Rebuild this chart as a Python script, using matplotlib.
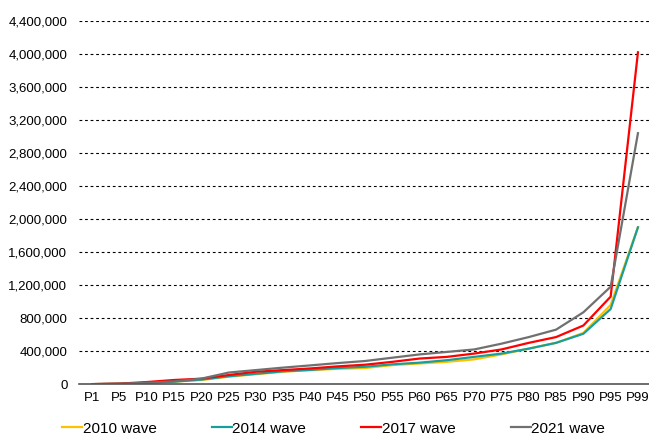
import matplotlib
matplotlib.use('Agg')
import matplotlib.pyplot as plt
from matplotlib.ticker import FuncFormatter

plt.rcParams['font.family'] = ['Liberation Sans', 'DejaVu Sans']

cats = ['P1', 'P5', 'P10', 'P15', 'P20', 'P25', 'P30', 'P35', 'P40', 'P45', 'P50',
        'P55', 'P60', 'P65', 'P70', 'P75', 'P80', 'P85', 'P90', 'P95', 'P99']

w2010 = [0, 4000, 14000, 30000, 50000, 90000, 120000, 150000, 170000, 185000, 195000,
         230000, 250000, 270000, 300000, 360000, 430000, 500000, 620000, 960000, 1900000]
w2014 = [0, 4000, 14000, 30000, 55000, 95000, 125000, 155000, 172000, 195000, 210000,
         240000, 260000, 290000, 330000, 370000, 430000, 500000, 610000, 910000, 1900000]
w2017 = [0, 6000, 25000, 50000, 66000, 110000, 150000, 170000, 190000, 215000, 235000,
         270000, 310000, 330000, 370000, 420000, 500000, 570000, 710000, 1060000, 4020000]
w2021 = [0, 5000, 16000, 33000, 66000, 140000, 170000, 200000, 227000, 255000, 280000,
         320000, 360000, 390000, 420000, 490000, 570000, 660000, 870000, 1180000, 3040000]

fig = plt.figure(figsize=(6.49, 4.36), dpi=100)
ax = fig.add_axes([0.121, 0.119, 0.883, 0.833])

x = range(len(cats))
ax.plot(x, w2010, color='#FFC000', lw=1.6, label='2010 wave')
ax.plot(x, w2014, color='#17A09B', lw=1.6, label='2014 wave')
ax.plot(x, w2017, color='#FF0000', lw=1.6, label='2017 wave')
ax.plot(x, w2021, color='#707070', lw=1.6, label='2021 wave')

ax.set_xlim(-0.5, len(cats) - 0.5)
ax.set_ylim(0, 4400000)
ax.set_yticks(range(0, 4400001, 400000))
ax.yaxis.set_major_formatter(FuncFormatter(lambda v, p: '{:,.0f}'.format(v)))
ax.set_xticks(list(x))
ax.set_xticklabels(cats)
ax.grid(axis='y', color='black', linestyle=(0, (2.5, 2.5)), lw=0.8)
ax.set_axisbelow(True)
for s in ['top', 'right', 'left']:
    ax.spines[s].set_visible(False)
ax.spines['bottom'].set_color('#555555')
ax.spines['bottom'].set_linewidth(1.2)
ax.tick_params(axis='both', length=0, labelsize=9.5, colors='black')
ax.tick_params(axis='x', pad=6)
ax.tick_params(axis='y', pad=8)

fig.legend(loc='center left', bbox_to_anchor=(0.096, 0.017), ncol=4, frameon=False,
           fontsize=11, handlelength=1.3, handletextpad=0.05, columnspacing=3.6,
           borderaxespad=0, borderpad=0)

fig.savefig('out.png', dpi=100)
